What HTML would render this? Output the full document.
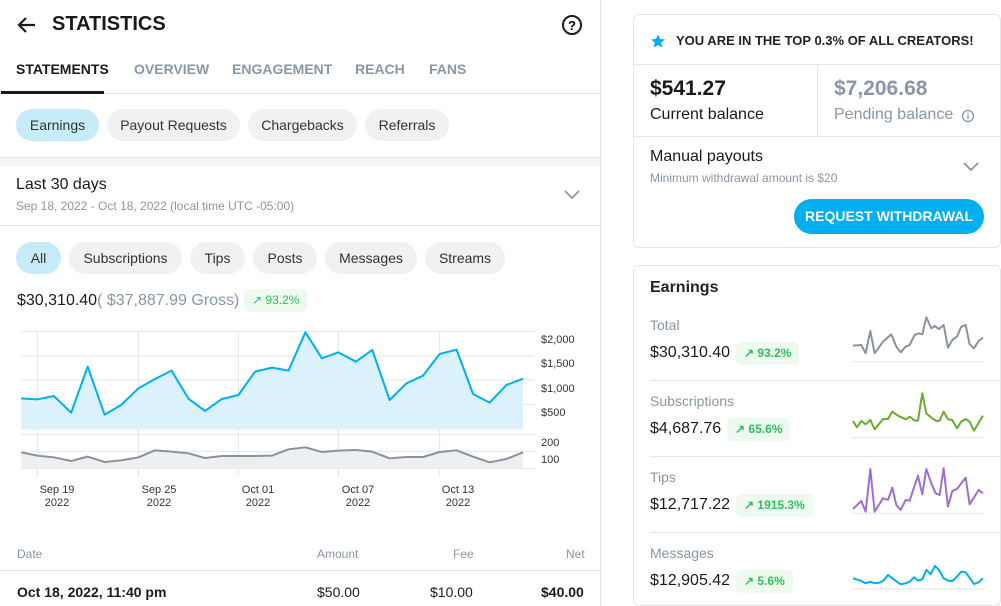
<!DOCTYPE html>
<html><head><meta charset="utf-8"><style>
*{box-sizing:border-box;margin:0;padding:0}
body{width:1001px;height:606px;overflow:hidden;background:#fff;font-family:"Liberation Sans",sans-serif;color:#1a1a1a;position:relative}
.a{position:absolute;white-space:nowrap}
.pill{position:absolute;height:32px;border-radius:16px;background:#f0f1f3;font-size:14px;line-height:32px;text-align:center;color:#333}
.pill.on{background:#c6ecfa}
.hl{position:absolute;height:1px;background:#e3e5e8}
.badge{position:absolute;background:#eefaf0;color:#2fbf5b;border-radius:5px;font-size:12px;font-weight:bold;height:23px;line-height:23px;padding:0 8px}
.gray{color:#8a96a3}
</style></head><body>
<div class="a" style="left:600px;top:0;width:1px;height:606px;background:#e3e5e8"></div>
<svg class="a" style="left:16px;top:14px" width="22" height="22" viewBox="0 0 22 22"><path d="M19 11H4M10 4l-7 7 7 7" stroke="#1a1a1a" stroke-width="2.2" fill="none"/></svg>
<div class="a" style="left:52px;top:13px;font-size:20px;font-weight:bold;letter-spacing:0">STATISTICS</div>
<svg class="a" style="left:560px;top:14px" width="24" height="24" viewBox="0 0 24 24"><circle cx="12" cy="11" r="9" stroke="#1a1a1a" stroke-width="2" fill="none"/><text x="12" y="16" font-size="13" font-weight="bold" text-anchor="middle" font-family="Liberation Sans">?</text></svg>
<div class="a" style="left:16px;top:61px;font-size:14px;font-weight:bold">STATEMENTS</div>
<div class="a gray" style="left:134px;top:61px;font-size:14px;font-weight:bold">OVERVIEW</div>
<div class="a gray" style="left:232px;top:61px;font-size:14px;font-weight:bold">ENGAGEMENT</div>
<div class="a gray" style="left:355px;top:61px;font-size:14px;font-weight:bold">REACH</div>
<div class="a gray" style="left:429px;top:61px;font-size:14px;font-weight:bold">FANS</div>
<div class="hl" style="left:0;top:93px;width:600px"></div>
<div class="a" style="left:1px;top:91px;width:103px;height:3px;background:#1a1a1a"></div>
<div class="pill on" style="left:16px;top:109px;width:83px">Earnings</div>
<div class="pill" style="left:107px;top:109px;width:133px">Payout Requests</div>
<div class="pill" style="left:248px;top:109px;width:109px">Chargebacks</div>
<div class="pill" style="left:365px;top:109px;width:84px">Referrals</div>
<div class="a" style="left:0;top:157px;width:600px;height:9px;background:#f4f5f6;border-top:1px solid #e3e5e8"></div>
<div class="a" style="left:16px;top:176px;font-size:16px">Last 30 days</div>
<div class="a gray" style="left:16px;top:199px;font-size:12px">Sep 18, 2022 - Oct 18, 2022 (local time UTC -05:00)</div>
<svg class="a" style="left:563px;top:189px" width="18" height="12"><path d="M2 2l7 7 7-7" stroke="#8a96a3" stroke-width="1.8" fill="none"/></svg>
<div class="hl" style="left:0;top:225px;width:600px"></div>
<div class="pill on" style="left:16px;top:242px;width:45px">All</div>
<div class="pill" style="left:69px;top:242px;width:113px">Subscriptions</div>
<div class="pill" style="left:190px;top:242px;width:55px">Tips</div>
<div class="pill" style="left:253px;top:242px;width:64px">Posts</div>
<div class="pill" style="left:325px;top:242px;width:92px">Messages</div>
<div class="pill" style="left:425px;top:242px;width:80px">Streams</div>
<div class="a" style="left:17px;top:292px;font-size:16px">$30,310.40<span class="gray">( $37,887.99 Gross)</span></div>
<div class="badge" style="left:244px;top:289px;font-weight:normal">↗ 93.2%</div>
<svg class="a" style="left:0;top:280px" width="600" height="230">
<g transform="scale(0.3846,0.3333)">
<g stroke="#e4e6e9" stroke-width="1" vector-effect="non-scaling-stroke">
<line x1="55" y1="155" x2="1390" y2="155" vector-effect="non-scaling-stroke"/><line x1="55" y1="228" x2="1390" y2="228" vector-effect="non-scaling-stroke"/><line x1="55" y1="300" x2="1390" y2="300" vector-effect="non-scaling-stroke"/><line x1="55" y1="373" x2="1390" y2="373" vector-effect="non-scaling-stroke"/>
<line x1="55" y1="463" x2="1390" y2="463" vector-effect="non-scaling-stroke"/><line x1="55" y1="515" x2="1390" y2="515" vector-effect="non-scaling-stroke"/><line x1="55" y1="565" x2="1390" y2="565" vector-effect="non-scaling-stroke"/>
<line x1="97" y1="155" x2="97" y2="590" vector-effect="non-scaling-stroke"/><line x1="360" y1="155" x2="360" y2="590" vector-effect="non-scaling-stroke"/><line x1="620" y1="155" x2="620" y2="590" vector-effect="non-scaling-stroke"/><line x1="880" y1="155" x2="880" y2="590" vector-effect="non-scaling-stroke"/><line x1="1143" y1="155" x2="1143" y2="590" vector-effect="non-scaling-stroke"/>
</g>
<polygon fill="#dbf2fc" points="55,449 55,355 97,358 140,348 185,398 228,260 272,404 315,375 360,325 403,297 446,272 490,356 533,393 577,357 620,345 663,275 707,263 750,272 794,157 837,235 880,217 925,245 968,210 1013,360 1057,310 1100,287 1143,222 1187,209 1230,342 1273,368 1317,315 1360,296 1360,449"/>
<polyline fill="none" stroke="#00aff0" stroke-width="2" vector-effect="non-scaling-stroke" stroke-linejoin="round" points="55,355 97,358 140,348 185,398 228,260 272,404 315,375 360,325 403,297 446,272 490,356 533,393 577,357 620,345 663,275 707,263 750,272 794,157 837,235 880,217 925,245 968,210 1013,360 1057,310 1100,287 1143,222 1187,209 1230,342 1273,368 1317,315 1360,296"/>
<polygon fill="#eeeff1" points="55,565 55,517 97,527 140,532 185,543 228,530 272,546 315,541 360,532 403,511 446,515 490,520 533,534 577,528 620,528 663,528 707,527 750,508 794,502 837,516 880,512 925,510 968,515 1013,535 1057,531 1100,531 1143,516 1187,511 1230,530 1273,547 1317,537 1360,517 1360,565"/>
<polyline fill="none" stroke="#8a939d" stroke-width="2" vector-effect="non-scaling-stroke" stroke-linejoin="round" points="55,517 97,527 140,532 185,543 228,530 272,546 315,541 360,532 403,511 446,515 490,520 533,534 577,528 620,528 663,528 707,527 750,508 794,502 837,516 880,512 925,510 968,515 1013,535 1057,531 1100,531 1143,516 1187,511 1230,530 1273,547 1317,537 1360,517"/>
</g>
<g font-size="11" fill="#333" font-family="Liberation Sans">
<text x="541" y="63">$2,000</text><text x="541" y="87">$1,500</text><text x="541" y="112">$1,000</text><text x="541" y="136">$500</text>
<text x="541" y="166">200</text><text x="541" y="183">100</text>
<g text-anchor="middle"><text x="57" y="213">Sep 19</text><text x="57" y="226">2022</text><text x="159" y="213">Sep 25</text><text x="159" y="226">2022</text><text x="258" y="213">Oct 01</text><text x="258" y="226">2022</text><text x="358" y="213">Oct 07</text><text x="358" y="226">2022</text><text x="458" y="213">Oct 13</text><text x="458" y="226">2022</text></g>
</g></svg>
<div class="a gray" style="left:17px;top:547px;font-size:12px">Date</div>
<div class="a gray" style="left:317px;top:547px;font-size:12px">Amount</div>
<div class="a gray" style="left:453px;top:547px;font-size:12px">Fee</div>
<div class="a gray" style="left:566px;top:547px;font-size:12px">Net</div>
<div class="hl" style="left:0;top:570px;width:600px"></div>
<div class="a" style="left:17px;top:584px;font-size:14px;font-weight:bold">Oct 18, 2022, 11:40 pm</div>
<div class="a" style="left:317px;top:584px;font-size:14px">$50.00</div>
<div class="a" style="left:430px;top:584px;font-size:14px">$10.00</div>
<div class="a" style="left:541px;top:584px;font-size:14px;font-weight:bold">$40.00</div>

<div class="a" style="left:633px;top:14px;width:368px;height:234px;border:1px solid #e3e5e8;border-radius:6px"></div>
<svg class="a" style="left:650px;top:33px" width="16" height="16" viewBox="0 0 24 24"><path d="M12 2l3 7 7.5.6-5.7 4.9 1.8 7.5L12 18l-6.6 4 1.8-7.5L1.5 9.6 9 9z" fill="#00aff0"/></svg>
<div class="a" style="left:676px;top:33px;font-size:13px;font-weight:bold;color:#222">YOU ARE IN THE TOP 0.3% OF ALL CREATORS!</div>
<div class="hl" style="left:634px;top:64px;width:366px"></div>
<div class="a" style="left:817px;top:64px;width:1px;height:72px;background:#e3e5e8"></div>
<div class="a" style="left:650px;top:77px;font-size:21px;font-weight:bold">$541.27</div>
<div class="a" style="left:650px;top:106px;font-size:16px">Current balance</div>
<div class="a gray" style="left:834px;top:77px;font-size:21px;font-weight:bold">$7,206.68</div>
<div class="a gray" style="left:834px;top:106px;font-size:16px">Pending balance</div>
<svg class="a" style="left:961px;top:109px" width="14" height="14"><circle cx="7" cy="7" r="5.5" stroke="#8a96a3" stroke-width="1.3" fill="none"/><rect x="6.3" y="6" width="1.4" height="4" fill="#8a96a3"/><rect x="6.3" y="3.6" width="1.4" height="1.4" fill="#8a96a3"/></svg>
<div class="hl" style="left:634px;top:136px;width:366px"></div>
<div class="a" style="left:650px;top:148px;font-size:16px">Manual payouts</div>
<div class="a gray" style="left:650px;top:171px;font-size:12px">Minimum withdrawal amount is $20</div>
<svg class="a" style="left:962px;top:161px" width="18" height="12"><path d="M2 2l7 7 7-7" stroke="#8a96a3" stroke-width="1.8" fill="none"/></svg>
<div class="a" style="left:794px;top:199px;width:190px;height:35px;border-radius:18px;background:#00aff0;color:#fff;font-size:14px;font-weight:bold;text-align:center;line-height:35px">REQUEST WITHDRAWAL</div>

<div class="a" style="left:633px;top:265px;width:368px;height:341px;border:1px solid #e3e5e8;border-radius:6px"></div>
<div class="a" style="left:650px;top:279px;font-size:16px;font-weight:bold;color:#222">Earnings</div>
<div class="a gray" style="left:650px;top:317px;font-size:14px">Total</div>
<div class="a" style="left:650px;top:344px;font-size:16px">$30,310.40</div>
<div class="badge" style="left:736px;top:342px">↗ 93.2%</div>
<div class="hl" style="left:650px;top:380px;width:350px"></div>
<div class="a gray" style="left:650px;top:393px;font-size:14px">Subscriptions</div>
<div class="a" style="left:650px;top:420px;font-size:16px">$4,687.76</div>
<div class="badge" style="left:727px;top:418px">↗ 65.6%</div>
<div class="hl" style="left:650px;top:456px;width:350px"></div>
<div class="a gray" style="left:650px;top:469px;font-size:14px">Tips</div>
<div class="a" style="left:650px;top:496px;font-size:16px">$12,717.22</div>
<div class="badge" style="left:736px;top:494px">↗ 1915.3%</div>
<div class="hl" style="left:650px;top:532px;width:350px"></div>
<div class="a gray" style="left:650px;top:545px;font-size:14px">Messages</div>
<div class="a" style="left:650px;top:572px;font-size:16px">$12,905.42</div>
<div class="badge" style="left:736px;top:570px">↗ 5.6%</div>
<svg class="a" style="left:633px;top:265px" width="368" height="341"><g transform="scale(0.3333)" fill="none" stroke-width="6" stroke-linejoin="round">
<g stroke="#e3e5e8" stroke-width="3"><line x1="658" y1="290" x2="1052" y2="290"/><line x1="658" y1="517" x2="1052" y2="517"/><line x1="658" y1="745" x2="1052" y2="745"/><line x1="658" y1="972" x2="1052" y2="972"/></g>
<polyline stroke="#8a939d" points="660,242 685,240 698,265 712,198 725,265 750,230 775,208 790,245 803,262 818,245 830,240 845,210 858,205 868,208 880,157 895,190 905,183 918,192 932,180 945,248 958,225 972,215 985,185 998,180 1010,238 1023,250 1037,228 1050,218"/>
<polyline stroke="#6aab2e" points="660,468 672,487 685,468 698,478 712,465 725,493 750,462 765,462 778,440 795,452 818,463 830,455 845,467 855,467 868,385 880,445 895,458 910,468 920,467 932,440 945,463 958,465 972,490 985,470 998,462 1010,470 1023,497 1050,452"/>
<polyline stroke="#9b6fd6" points="660,732 685,708 698,740 712,612 725,740 750,700 765,705 778,668 790,720 803,735 818,705 830,707 855,632 868,688 880,612 895,655 908,685 920,690 932,610 945,725 958,678 972,672 998,638 1010,718 1037,675 1050,685"/>
<polyline stroke="#00aff0" points="660,940 685,948 698,955 712,950 725,955 740,953 750,948 765,930 778,940 803,958 818,955 830,950 843,937 855,947 868,943 880,915 893,928 906,903 918,915 932,940 945,947 958,948 972,935 985,920 998,922 1023,957 1037,952 1050,940"/>
</g></svg>
</body></html>
